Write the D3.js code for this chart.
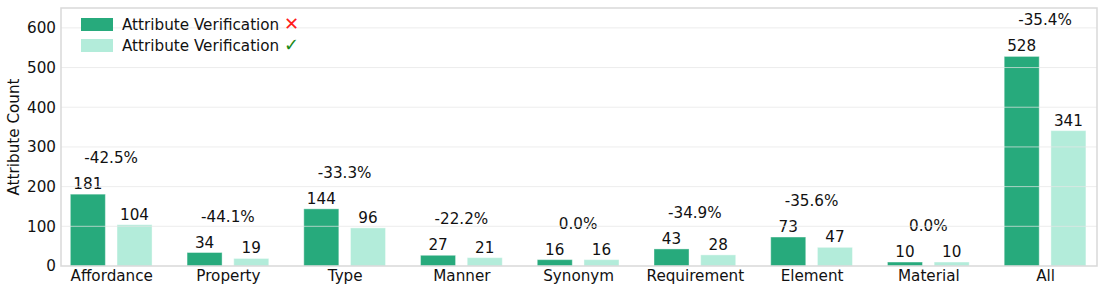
<!DOCTYPE html>
<html>
<head>
<meta charset="utf-8" />
<script src="https://d3js.org/d3.v7.min.js"></script>
<style>
  body, html { margin: 0; padding: 0; background: #fff; }
  text { font-family: "DejaVu Sans", sans-serif; fill: #111; }
</style>
</head>
<body>
<div id="chart"></div>
<script>
// data
const categories = ["Affordance", "Property", "Type", "Manner", "Synonym", "Requirement", "Element", "Material", "All"];
const withoutVerif = [181, 34, 144, 27, 16, 43, 73, 10, 528];
const withVerif = [104, 19, 96, 21, 16, 28, 47, 10, 341];
const yTicks = [0, 100, 200, 300, 400, 500, 600];

const width = 1105, height = 293;
const margin = { top: 8, right: 8, bottom: 27, left: 61 };
const darkColor = "#27aa7c";
const lightColor = "#b3ecda";
const fs = 15.2;

const svg = d3.select("#chart").append("svg")
    .attr("width", width)
    .attr("height", height);

// x as linear over category index (like matplotlib)
const x = d3.scaleLinear()
    .domain([-0.43, categories.length - 1 + 0.445])
    .range([margin.left, width - margin.right]);
const y = d3.scaleLinear()
    .domain([0, 650])
    .range([height - margin.bottom, margin.top]);

const barW = x(0.3) - x(0);
const offset = 0.2;

// bars
const g = svg.append("g");
g.selectAll("rect.dark")
    .data(withoutVerif)
    .enter().append("rect")
    .attr("class", "dark")
    .attr("x", (d, i) => x(i - offset) - barW / 2)
    .attr("y", d => y(d))
    .attr("width", barW)
    .attr("height", d => y(0) - y(d))
    .attr("fill", darkColor)
    .attr("stroke", "#fff")
    .attr("stroke-opacity", 0.4)
    .attr("stroke-width", 1);

g.selectAll("rect.light")
    .data(withVerif)
    .enter().append("rect")
    .attr("class", "light")
    .attr("x", (d, i) => x(i + offset) - barW / 2)
    .attr("y", d => y(d))
    .attr("width", barW)
    .attr("height", d => y(0) - y(d))
    .attr("fill", lightColor)
    .attr("stroke", "#fff")
    .attr("stroke-opacity", 0.4)
    .attr("stroke-width", 1);

// grid on top of bars
svg.append("g")
    .selectAll("line")
    .data(yTicks.slice(1))
    .enter().append("line")
    .attr("x1", margin.left)
    .attr("x2", width - margin.right)
    .attr("y1", d => y(d))
    .attr("y2", d => y(d))
    .attr("stroke", "#e6e6e6")
    .attr("stroke-opacity", 0.7)
    .attr("stroke-width", 1);

// frame
svg.append("rect")
    .attr("x", margin.left)
    .attr("y", margin.top)
    .attr("width", width - margin.left - margin.right)
    .attr("height", height - margin.top - margin.bottom)
    .attr("fill", "none")
    .attr("stroke", "#d9d9d9")
    .attr("stroke-width", 1.5);

// value labels
g.selectAll("text.vd")
    .data(withoutVerif)
    .enter().append("text")
    .attr("x", (d, i) => x(i - offset))
    .attr("y", d => y(d) - 5)
    .attr("text-anchor", "middle")
    .attr("font-size", fs)
    .text(d => d);
g.selectAll("text.vl")
    .data(withVerif)
    .enter().append("text")
    .attr("x", (d, i) => x(i + offset))
    .attr("y", d => y(d) - 5)
    .attr("text-anchor", "middle")
    .attr("font-size", fs)
    .text(d => d);

// percent change labels
g.selectAll("text.pct")
    .data(categories)
    .enter().append("text")
    .attr("x", (d, i) => x(i))
    .attr("y", (d, i) => y(Math.max(withoutVerif[i], withVerif[i])) - 31)
    .attr("text-anchor", "middle")
    .attr("font-size", fs)
    .text((d, i) => ((withVerif[i] - withoutVerif[i]) / withoutVerif[i] * 100).toFixed(1) + "%");

// axes
const yAxis = svg.append("g")
    .attr("transform", `translate(${margin.left},0)`)
    .call(d3.axisLeft(y).tickValues(yTicks).tickSize(0).tickPadding(5));
yAxis.select(".domain").remove();
yAxis.selectAll("text").attr("font-size", fs).style("font-family", "DejaVu Sans");

const xAxis = svg.append("g")
    .attr("transform", `translate(0,${height - margin.bottom})`)
    .call(d3.axisBottom(x).tickValues(d3.range(categories.length)).tickFormat(i => categories[i]).tickSize(0).tickPadding(4));
xAxis.select(".domain").remove();
xAxis.selectAll("text").attr("font-size", fs).style("font-family", "DejaVu Sans");

svg.append("text")
    .attr("transform", `translate(19,${(margin.top + height - margin.bottom) / 2}) rotate(-90)`)
    .attr("text-anchor", "middle")
    .attr("font-size", fs)
    .text("Attribute Count");

// legend
const legend = svg.append("g").attr("transform", "translate(81,18)");
const legendItems = [
    { color: darkColor, mark: "✕", markColor: "#ff1a1a" },
    { color: lightColor, mark: "✓", markColor: "#1a8a1a" }
];
legendItems.forEach((d, i) => {
    const row = legend.append("g").attr("transform", `translate(0,${i * 21})`);
    row.append("rect")
        .attr("width", 32).attr("height", 13)
        .attr("fill", d.color);
    const t = row.append("text")
        .attr("x", 41).attr("y", 12)
        .attr("font-size", fs);
    t.append("tspan").text("Attribute Verification ");
    t.append("tspan").attr("fill", d.markColor).style("fill", d.markColor)
        .style("font-weight", "bold").style("font-size", "18px").text(d.mark);
});
</script>
</body>
</html>
